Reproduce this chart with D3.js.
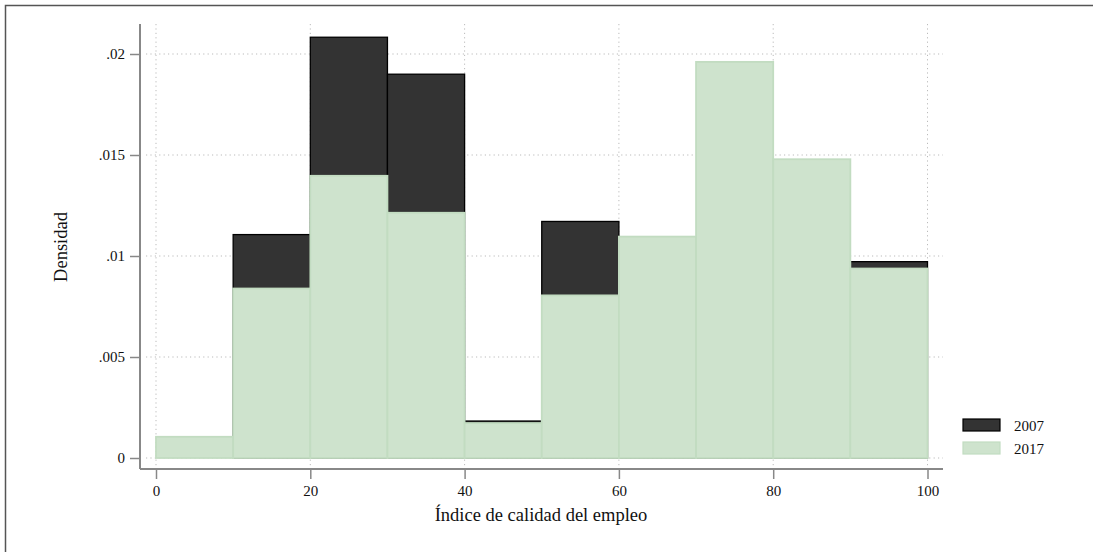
<!DOCTYPE html>
<html><head><meta charset="utf-8">
<script src="https://cdn.jsdelivr.net/npm/d3@7"></script>
<style>body{margin:0;background:#fff}svg{display:block}text{font-family:"Liberation Serif","Times New Roman","DejaVu Serif",serif;fill:#111}</style>
</head><body><svg id="c" width="1093" height="552"></svg>
<script>
const binStarts = [0,10,20,30,40,50,60,70,80,90];
const binWidth = 10;
const dens2007 = [0,0.01106,0.02083,0.0190,0.00183,0.01171,0.0080,0.0100,0.0073,0.00972];
const dens2017 = [0.00105,0.00839,0.01397,0.01214,0.00173,0.00805,0.01096,0.01961,0.01479,0.00938];
const xTicks = [0,20,40,60,80,100];
const yTicks = [0,0.005,0.01,0.015,0.02];
const yTickLabels = ["0",".005",".01",".015",".02"];
const seriesNames = ["2007","2017"];

const FONT = '"Liberation Serif","Times New Roman",serif';
const svg = d3.select("#c");
svg.append("rect").attr("x",5.5).attr("y",5.5).attr("width",1200).attr("height",700)
  .attr("fill","none").attr("stroke","#555").attr("stroke-width",1.5);

const x = d3.scaleLinear().domain([0,100]).range([156,927.5]);
const y = d3.scaleLinear().domain([0,0.02]).range([458,54]);

const g = svg.append("g");
g.selectAll("line.h").data(yTicks).join("line")
  .attr("x1",146).attr("x2",943).attr("y1",d=>y(d)).attr("y2",d=>y(d))
  .attr("stroke","#bbb").attr("stroke-width",1).attr("stroke-dasharray","1.2,3.2");
g.selectAll("line.v").data(xTicks).join("line")
  .attr("y1",24).attr("y2",469).attr("x1",d=>x(d)).attr("x2",d=>x(d))
  .attr("stroke","#bbb").attr("stroke-width",1).attr("stroke-dasharray","1.2,3.2");

svg.append("g").selectAll("rect").data(binStarts).join("rect")
  .attr("x",(d)=>x(d)).attr("width",d=>x(d+binWidth)-x(d))
  .attr("y",(d,i)=>y(dens2007[i])).attr("height",(d,i)=>y(0)-y(dens2007[i]))
  .attr("fill","#333").attr("stroke","#000").attr("stroke-width",1.3)
  .attr("display",(d,i)=>dens2007[i]>0?null:"none");
svg.append("g").selectAll("rect").data(binStarts).join("rect")
  .attr("x",(d)=>x(d)).attr("width",d=>x(d+binWidth)-x(d))
  .attr("y",(d,i)=>y(dens2017[i])).attr("height",(d,i)=>y(0)-y(dens2017[i]))
  .attr("fill","#cee3cd").attr("stroke","#c2dcc1").attr("stroke-width",1.8);

const xAxis = svg.append("g").attr("transform","translate(0,469)")
  .call(d3.axisBottom(x).tickValues(xTicks).tickSize(10).tickPadding(6).tickFormat(d3.format("d")));
xAxis.select(".domain").attr("d","M140,0H943").attr("stroke","#888").attr("stroke-width",2);
xAxis.selectAll(".tick line").attr("stroke","#888").attr("stroke-width",1.5);
xAxis.selectAll(".tick text").attr("font-size",15).attr("font-family",FONT).attr("fill","#111");

const yAxis = svg.append("g").attr("transform","translate(140,0)")
  .call(d3.axisLeft(y).tickValues(yTicks).tickSize(10).tickPadding(5).tickFormat((d,i)=>yTickLabels[i]));
yAxis.select(".domain").attr("d","M0,24V469").attr("stroke","#888").attr("stroke-width",2);
yAxis.selectAll(".tick line").attr("stroke","#888").attr("stroke-width",1.5);
yAxis.selectAll(".tick text").attr("font-size",15).attr("font-family",FONT).attr("fill","#111");

svg.append("text").attr("x",541).attr("y",521).attr("text-anchor","middle").attr("font-size",18.5)
  .attr("font-family",FONT).text("Índice de calidad del empleo");
svg.append("text").attr("transform","translate(67,247) rotate(-90)").attr("text-anchor","middle").attr("font-size",18.5)
  .attr("font-family",FONT).text("Densidad");

const leg = svg.append("g");
const legFill = ["#333","#cee3cd"], legStroke = ["#000","#c2dcc1"];
seriesNames.forEach((n,i)=>{
  leg.append("rect").attr("x",963).attr("y",419+i*23).attr("width",37).attr("height",12)
    .attr("fill",legFill[i]).attr("stroke",legStroke[i]).attr("stroke-width",1.2);
  leg.append("text").attr("x",1014).attr("y",431+i*23).attr("font-size",15).attr("font-family",FONT).text(n);
});
</script></body></html>
